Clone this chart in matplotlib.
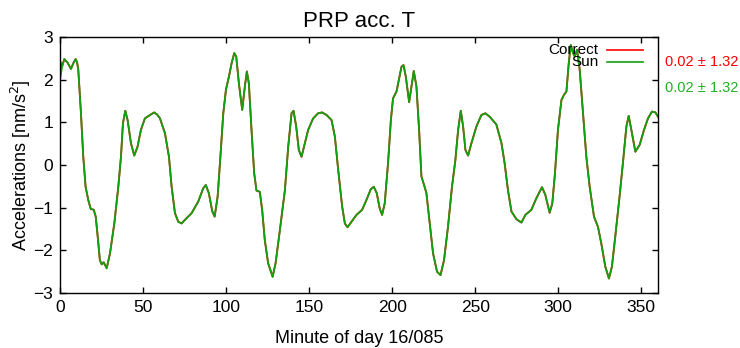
import matplotlib
matplotlib.use("Agg")
import matplotlib.pyplot as plt

plt.rcParams['font.family'] = ['Liberation Sans', 'DejaVu Sans']

# Dados (minuto do dia, aceleracao em nm/s^2)
minutes = [
    0, 1.2, 2.6, 4.5, 6.6, 8.2, 9.4, 10.3, 11, 12.6, 14, 15.4, 17, 18.5, 20.3, 21.5,
    22.7, 24, 25.1, 26.3, 28.1, 30.1, 32.7, 35.1, 36.7, 37.9, 39.3, 40.7, 42.7, 44.7,
    46.7, 48.7, 51.1, 54.2, 56.7, 58.5, 60.2, 63.2, 65.6, 67.2, 69.2, 71.2, 73.2, 75.6,
    79.2, 83.2, 86.2, 87.8, 89.6, 91.7, 93.1, 94.9, 96.7, 98.3, 99.9, 101.7, 103.3,
    104.9, 106.1, 107.7, 109.7, 111.3, 112.5, 113.7, 115.3, 116.9, 118.3, 120.3, 121.7,
    123.3, 125.3, 128.0, 129.8, 132.4, 135.4, 137.4, 139.4, 140.6, 142.2, 143.8, 145.4,
    147.4, 149.4, 152.4, 155.4, 157.8, 160.5, 163.5, 165.5, 167.5, 169.9, 171.5, 173.1,
    175.5, 178.5, 181.9, 184.5, 187.1, 188.9, 190.7, 192.5, 193.9, 195.5, 197.5, 199.2,
    200.5, 202.6, 204.0, 205.6, 206.8, 208.2, 210.2, 211.6, 213.0, 214.6, 216.2, 217.6,
    219.2, 220.6, 222.6, 224.6, 227.0, 229.1, 231.2, 233.6, 236.0, 238.0, 239.7, 241.3,
    242.7, 244.1, 245.7, 247.7, 250.7, 253.7, 256.1, 258.7, 262.7, 265.8, 267.7, 269.7,
    271.8, 274.8, 277.8, 280.2, 283.8, 286.8, 290.2, 292.2, 294.8, 296.4, 298.0, 299.8,
    301.9, 303.4, 304.9, 306.3, 307.5, 308.9, 309.9, 311.3, 312.9, 314.9, 316.9, 318.9,
    321.5, 323.9, 325.9, 328.3, 330.5, 332.3, 334.3, 336.9, 338.9, 341.0, 342.4, 344.0,
    346.4, 349.0, 351.6, 354.0, 356.4, 358.5, 360,
]

sun_acc = [
    1.99, 2.3, 2.48, 2.40, 2.25, 2.40, 2.48, 2.40, 2.23, 1.22, 0.19, -0.51, -0.82, -1.03,
    -1.05, -1.21, -1.68, -2.23, -2.33, -2.28, -2.42, -2.07, -1.37, -0.51, 0.19, 0.98,
    1.27, 1.05, 0.51, 0.22, 0.43, 0.82, 1.09, 1.17, 1.23, 1.18, 1.09, 0.74, 0.19, -0.51,
    -1.13, -1.33, -1.37, -1.27, -1.13, -0.86, -0.55, -0.47, -0.66, -1.09, -1.21, -0.74,
    0.27, 1.21, 1.76, 2.07, 2.38, 2.62, 2.54, 1.91, 1.29, 1.84, 2.19, 1.91, 0.82, -0.19,
    -0.60, -0.63, -1.05, -1.76, -2.30, -2.62, -2.30, -1.52, -0.59, 0.43, 1.21, 1.27,
    0.90, 0.35, 0.19, 0.51, 0.82, 1.09, 1.21, 1.23, 1.17, 1.05, 0.66, -0.12, -0.98,
    -1.37, -1.46, -1.33, -1.17, -1.05, -0.82, -0.57, -0.51, -0.66, -1.02, -1.17, -0.90,
    0.04, 1.05, 1.56, 1.72, 1.99, 2.30, 2.34, 2.07, 1.47, 1.84, 2.20, 1.84, 0.82, -0.27,
    -0.47, -0.66, -1.37, -2.07, -2.50, -2.58, -2.23, -1.45, -0.51, 0.1, 0.82, 1.27,
    0.90, 0.35, 0.22, 0.51, 0.90, 1.17, 1.21, 1.13, 0.95, 0.51, 0.04, -0.59, -1.09,
    -1.27, -1.35, -1.17, -1.05, -0.78, -0.52, -0.70, -1.12, -0.90, -0.2, 0.82, 1.52,
    1.64, 1.72, 2.38, 2.81, 2.62, 2.54, 2.70, 2.23, 1.21, 0.19, -0.51, -1.21, -1.45,
    -1.84, -2.38, -2.66, -2.38, -1.68, -0.74, 0.04, 0.90, 1.15, 0.82, 0.31, 0.47, 0.82,
    1.09, 1.25, 1.23, 1.13,
]

# A serie "Correct" so difere no primeiro ponto
correct_acc = [2.45] + sun_acc[1:]

series_names = ['Correct', 'Sun']
series_stats = ['0.02 ± 1.32', '0.02 ± 1.32']
red = '#ff0000'
green = '#11a011'

fig = plt.figure(figsize=(7.4, 3.48), dpi=100)
ax = fig.add_axes([0.0811, 0.158, 0.808, 0.736])

ax.plot(minutes, correct_acc, color=red, lw=1.3)
ax.plot(minutes, sun_acc, color=green, lw=1.3)

ax.set_xlim(0, 360)
ax.set_ylim(-3, 3)
ax.set_xticks(range(0, 351, 50))
ax.set_yticks(range(-3, 4))
ax.tick_params(direction='in', length=4, width=1, top=True, right=True,
               labelsize=12.5, pad=5)
for s in ax.spines.values():
    s.set_linewidth(1)

ax.set_title('PRP acc. T', fontsize=16, pad=7)
ax.set_xlabel('Minute of day 16/085', fontsize=13)
ax.set_ylabel('Accelerations [nm/s$^2$]', fontsize=13)
ax.xaxis.set_label_coords(0.5, -0.145)
ax.yaxis.set_label_coords(-0.046, 0.5)

# legenda manual (texto alinhado a direita, como no gnuplot)
for i, (name, col) in enumerate(zip(series_names, [red, green])):
    y = 0.949 - i * 0.047
    ax.text(0.90, y, name, transform=ax.transAxes, ha='right', va='center', fontsize=11)
    ax.plot([0.915, 0.975], [y, y], transform=ax.transAxes, color=col, lw=1.2,
            clip_on=False)

# media +- desvio padrao ao lado do grafico
for i, (txt, col) in enumerate(zip(series_stats, [red, '#22b022'])):
    ax.text(1.012, 0.902 - i * 0.101, txt, transform=ax.transAxes, ha='left',
            va='center', fontsize=10.5, color=col)

fig.savefig('out.png', dpi=100)
